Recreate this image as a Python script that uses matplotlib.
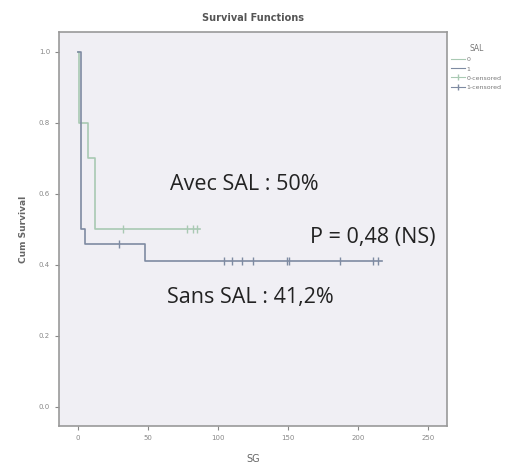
import matplotlib
matplotlib.use("Agg")
import matplotlib.pyplot as plt
from matplotlib.lines import Line2D

# Data
avec_times = [0, 1, 7, 12, 87]
avec_surv = [1.0, 0.8, 0.7, 0.5, 0.5]
avec_cens_t = [32, 78, 82, 85]
avec_cens_s = [0.5, 0.5, 0.5, 0.5]

sans_times = [0, 2, 5, 48, 217]
sans_surv = [1.0, 0.5, 0.46, 0.412, 0.412]
sans_cens_t = [29, 104, 110, 117, 125, 149, 151, 187, 211, 214]
sans_cens_s = [0.46, 0.412, 0.412, 0.412, 0.412, 0.412, 0.412, 0.412, 0.412, 0.412]

xticks = [0, 50, 100, 150, 200, 250]
yticks = [0.0, 0.2, 0.4, 0.6, 0.8, 1.0]
ytick_labels = ["0.0", "0.2", "0.4", "0.6", "0.8", "1.0"]

green = "#a9c9b3"
blue = "#7e8ba2"

fig = plt.figure(figsize=(5.26, 4.65), dpi=100)
ax = fig.add_axes([59/526, 1-426/465, (447-59)/526, (426-32)/465])
ax.set_facecolor("#f0eff4")

ax.step(avec_times, avec_surv, where="post", color=green, lw=1.2)
ax.step(sans_times, sans_surv, where="post", color=blue, lw=1.2)
ax.plot(avec_cens_t, avec_cens_s, ls="none", marker="|", ms=6, mew=1, color=green)
ax.plot(sans_cens_t, sans_cens_s, ls="none", marker="|", ms=6, mew=1, color=blue)

ax.set_xlim(-13.6, 263.6)
ax.set_ylim(-0.054, 1.056)
ax.set_xticks(xticks)
ax.set_xticklabels([str(x) for x in xticks])
ax.set_yticks(yticks)
ax.set_yticklabels(ytick_labels)
ax.tick_params(labelsize=5, colors="#888888", length=3, width=0.8)
for sp in ax.spines.values():
    sp.set_color("#999999")
    sp.set_linewidth(1.2)

ax.set_title("Survival Functions", fontsize=7, fontweight="bold", color="#555555", pad=8)
ax.set_ylabel("Cum Survival", fontsize=6.5, fontweight="bold", color="#666666", labelpad=8)
ax.set_xlabel("SG", fontsize=7, color="#666666", labelpad=9)

tf = ["Open Sans", "DejaVu Sans"]
ax.text(65.5, 0.625, "Avec SAL : 50%", fontsize=15.5, family=tf, color="#222222", va="center")
ax.text(165.5, 0.476, "P = 0,48 (NS)", fontsize=15.5, family=tf, color="#222222", va="center")
ax.text(63.5, 0.307, "Sans SAL : 41,2%", fontsize=15.5, family=tf, color="#222222", va="center")

handles = [
    Line2D([], [], color=green, lw=0.8),
    Line2D([], [], color=blue, lw=0.8),
    Line2D([], [], color=green, lw=0.8, marker="|", ms=5),
    Line2D([], [], color=blue, lw=0.8, marker="|", ms=5),
]
leg = ax.legend(handles, ["0", "1", "0-censored", "1-censored"], title="SAL",
                loc="upper left", bbox_to_anchor=(1.0, 0.98), frameon=False,
                fontsize=4.5, title_fontsize=5.5, handlelength=2.2, labelspacing=0.6,
                borderaxespad=0.3, handletextpad=0.2)
for t in leg.get_texts():
    t.set_color("#777777")
leg.get_title().set_color("#777777")

fig.savefig("out.png", dpi=100)
